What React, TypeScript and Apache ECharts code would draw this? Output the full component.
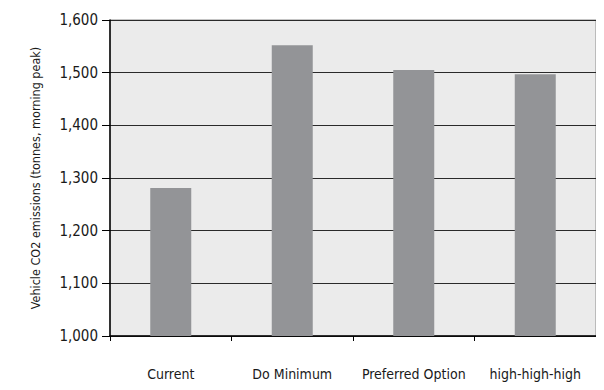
import React, { useEffect, useRef } from "react";
import * as echarts from "echarts";

const categories = ["Current", "Do Minimum", "Preferred Option", "high-high-high"];
const emissions = [1281, 1552, 1505, 1497];
const yMin = 1000;
const yMax = 1600;
const yStep = 100;
const yTitle = "Vehicle CO2 emissions (tonnes, morning peak)";

const FONT = "'Liberation Sans Narrow', 'DejaVu Sans Condensed', 'Roboto Condensed', 'Arial Narrow', sans-serif";

export default function App() {
  const ref = useRef<HTMLDivElement>(null);
  useEffect(() => {
    if (!ref.current) return;
    const chart = echarts.init(ref.current, undefined, { renderer: "svg" });
    chart.setOption({
      animation: false,
      backgroundColor: "#ffffff",
      grid: {
        left: 110,
        right: 8,
        top: 20,
        bottom: 54,
        show: true,
        backgroundColor: "#ebebeb",
        borderColor: "#8a8a8a",
        borderWidth: 1,
      },
      xAxis: {
        type: "category",
        data: categories,
        axisLine: { show: true, lineStyle: { color: "#000", width: 1.5 } },
        axisTick: { show: true, alignWithLabel: false, interval: 0, length: 5, lineStyle: { color: "#000" } },
        axisLabel: {
          interval: 0,
          hideOverlap: false,
          margin: 31,
          color: "#1a1a1a",
          fontFamily: FONT,
          fontSize: 14,
        },
        splitLine: { show: false },
      },
      yAxis: {
        type: "value",
        min: yMin,
        max: yMax,
        interval: yStep,
        name: yTitle,
        nameLocation: "middle",
        nameGap: 68,
        nameTextStyle: { color: "#1a1a1a", fontFamily: FONT, fontSize: 12.5 },
        axisLine: { show: true, lineStyle: { color: "#000", width: 1.5 } },
        axisTick: { show: true, length: 8, lineStyle: { color: "#000" } },
        axisLabel: {
          margin: 12,
          color: "#1a1a1a",
          fontFamily: FONT,
          fontSize: 15,
          formatter: (v: number) => v.toLocaleString("en-US"),
        },
        splitLine: { show: true, lineStyle: { color: "#2a2a2a", width: 1 } },
      },
      series: [
        {
          type: "bar",
          data: emissions,
          barWidth: 41,
          itemStyle: { color: "#939497" },
        },
      ],
    });
    return () => chart.dispose();
  }, []);
  return <div ref={ref} style={{ width: 604, height: 390, margin: -8 }} />;
}
